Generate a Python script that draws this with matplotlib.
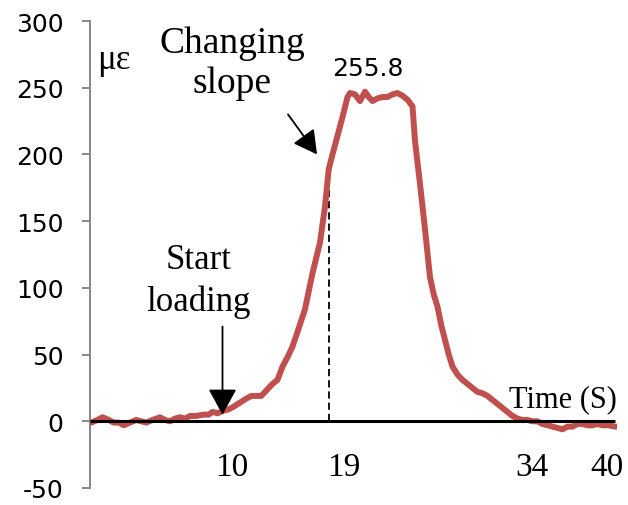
import matplotlib
matplotlib.use("Agg")
import matplotlib.pyplot as plt

# Strain record over time (seconds, microstrain)
time_s = [0.1, 0.6, 1.0, 1.5, 1.9, 2.3, 2.7, 3.2, 3.7, 4.1, 4.5, 5.0, 5.6, 6.0,
          6.4, 6.8, 7.2, 7.6, 8.0, 8.5, 9.1, 9.5, 9.8, 10.2, 10.7, 11.1, 11.5,
          12.0, 12.5, 12.9, 13.3, 13.7, 14.2, 14.6, 15.0, 15.4, 15.8, 16.2,
          16.6, 17.2, 17.8, 18.4, 18.8, 19.1, 19.4, 19.8, 20.2, 20.6, 20.8,
          21.2, 21.6, 22.0, 22.3, 22.6, 23.0, 23.4, 23.8, 24.2, 24.6, 25.0,
          25.4, 25.8, 26.0, 26.4, 26.8, 27.2, 27.5, 27.8, 28.1, 28.4, 28.7,
          29.0, 29.4, 29.8, 30.2, 30.6, 31.0, 31.4, 31.8, 32.2, 32.6, 33.0,
          33.4, 33.8, 34.2, 34.6, 35.0, 35.4, 35.8, 36.2, 36.6, 37.0, 37.4,
          37.8, 38.2, 38.6, 39.0, 39.4, 39.8, 40.2, 40.6, 41.0, 41.5, 42.0,
          42.2]
strain = [-1, 1, 3, 1, -1, -1, -3, -1, 1, 0, -1, 1, 3, 1,
          0, 2, 3, 2, 4, 4, 5, 5, 7, 6, 8, 9, 11,
          14, 17, 19, 19, 19, 24, 28, 31, 41, 48, 56,
          67, 84, 111, 134, 161, 189, 200, 214, 228, 243, 246,
          245, 240, 247, 243, 240, 242, 243, 243, 245, 246, 244,
          241, 236, 210, 178, 144, 108, 95, 86, 72, 61, 50,
          41, 35, 31, 28, 25, 22, 21, 19, 16, 13, 10,
          7, 4, 2, 1, 1, 0, 0, -2, -3, -4, -5,
          -6, -4, -4, -2, -2, -3, -3, -2, -3, -3, -4,
          -4]

y_ticks = [-50, 0, 50, 100, 150, 200, 250, 300]
time_marks = [10, 19, 34, 40]
peak_label = "255.8"
slope_change_t = 19.1
slope_change_v = 189

RED = "#C0504D"
GREY = "#868686"
SERIF = ["Liberation Serif", "DejaVu Serif"]
SANS = ["DejaVu Sans"]

fig = plt.figure(figsize=(6.28, 5.06), dpi=100)
W, H = 628, 506
ax = fig.add_axes([90 / W, (H - 489) / H, 527 / W, 467 / H])

ax.set_xlim(0, 42.16)
ax.set_ylim(-50, 300)

# strain curve
ax.plot(time_s, strain, color=RED, lw=4.3, solid_capstyle="round",
        solid_joinstyle="round", zorder=3)

# time axis drawn through zero
ax.plot([0, 42.0], [0, 0], color="black", lw=2.2, zorder=4,
        solid_capstyle="butt")

# vertical marker at the slope change
ax.plot([slope_change_t, slope_change_t], [0, slope_change_v], color="black",
        lw=1.3, linestyle=(0, (4, 2.2)), zorder=2)

# axes styling
for side in ("top", "right", "bottom"):
    ax.spines[side].set_visible(False)
ax.spines["left"].set_color(GREY)
ax.spines["left"].set_linewidth(1.4)
ax.set_xticks([])
ax.set_yticks(y_ticks)
ax.set_yticklabels([str(v) for v in y_ticks], fontfamily=SANS, fontsize=18)
ax.tick_params(axis="y", length=6, width=1.4, color=GREY, pad=13)

# time labels
for t in time_marks:
    ax.text(t, -33.7, str(t), ha="left", va="center", fontsize=24,
            fontfamily=SERIF)

ax.text(37.84, 11.2, "Time (S)", ha="center", va="baseline", fontsize=22,
        fontfamily=SERIF, zorder=5)
ax.text(0.55, 271, "με", ha="left", va="center", fontsize=25,
        fontfamily=SERIF)
ax.text(22.2, 265, peak_label, ha="center", va="center", fontsize=18,
        fontfamily=SANS)

# annotations
ax.text(8.7, 105.5, "Start\nloading", ha="center", va="center", fontsize=25,
        fontfamily=SERIF, linespacing=1.3)
ax.annotate("", xy=(10.6, 5), xytext=(10.6, 71),
            arrowprops=dict(arrowstyle="-|>,head_length=0.4,head_width=0.22",
                            mutation_scale=40, lw=1.3, color="black",
                            shrinkA=0, shrinkB=0), zorder=5)

ax.text(11.36, 268.7, "Changing\nslope", ha="center", va="center",
        fontsize=27, fontfamily=SERIF, linespacing=1.22)
ax.annotate("", xy=(18.16, 200), xytext=(15.84, 230),
            arrowprops=dict(arrowstyle="-|>,head_length=0.4,head_width=0.22",
                            mutation_scale=36, lw=1.3, color="black",
                            shrinkA=0, shrinkB=0), zorder=5)

fig.savefig("out.png", dpi=100)
